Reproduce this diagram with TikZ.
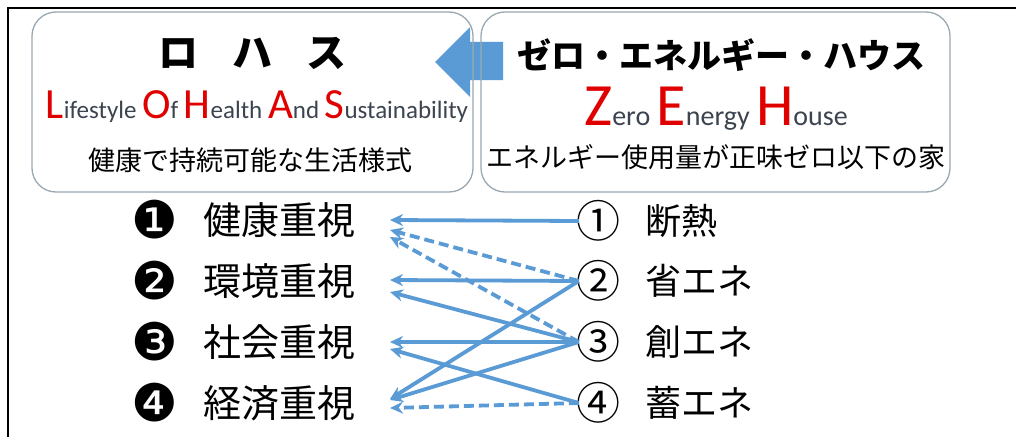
\documentclass[tikz,border=0pt]{standalone}
\usepackage{fontspec}
\setmainfont{Carlito}
\newfontfamily\jp{Noto Sans CJK JP}
\newfontfamily\dv{DejaVu Sans}
\usetikzlibrary{arrows.meta}
\definecolor{zblue}{HTML}{5B9BD5}
\definecolor{boxline}{HTML}{9AA8B2}
\definecolor{zred}{HTML}{E00000}
\definecolor{lgrey}{HTML}{3C4450}
\newcommand{\BigC}[1]{{\fontsize{43}{43}\selectfont\color{zred}#1}}
\newcommand{\SmC}[1]{{\fontsize{25}{25}\selectfont\color{lgrey}#1}}
\newcommand{\BigZ}[1]{{\fontsize{60}{60}\selectfont\color{zred}#1}}
\newcommand{\SmZ}[1]{{\fontsize{28}{28}\selectfont\color{lgrey}#1}}
\begin{document}
\begin{tikzpicture}[x=1pt,y=-1pt,
  infobox/.style={draw=boxline, line width=1.3pt, rounded corners=24pt, inner sep=0pt},
  txt/.style={inner sep=0pt, text=black},
  num/.style={txt, font=\dv\fontsize{52}{52}\selectfont},
  lt/.style={txt, font=\jp\fontsize{38}{38}\selectfont, anchor=west},
  circ/.style={txt, font=\jp\fontsize{44}{44}\selectfont},
  rt/.style={txt, font=\jp\fontsize{36}{36}\selectfont, anchor=west},
  conn/.style={draw=zblue, line width=3.8pt, -{Stealth[length=13pt,width=12pt]}},
  dashconn/.style={conn, dash pattern=on 10pt off 5pt}
]
\useasboundingbox (0,0) rectangle (1016,436);
\fill[white] (0,0) rectangle (1016,436);
\draw[line width=2.2pt] (8,437) -- (8,8) -- (1017,8);

% big block arrow
\fill[zblue] (435,62) -- (470,27) -- (470,42) -- (503,42) -- (503,80) -- (470,80) -- (470,97) -- cycle;

% boxes
\node[infobox, minimum width=441pt, minimum height=180pt] (lohasbox) at (252.5,102) {};
\node[infobox, minimum width=469pt, minimum height=180pt] (zehbox) at (715.5,102) {};

% LOHAS texts
\node[txt, font=\jp\bfseries\fontsize{40}{40}\selectfont] (lohas) at (252,53) {ロ\hspace{34pt}ハ\hspace{34pt}ス};
\node[txt, anchor=base] (lohasen) at (257,118) {\BigC{L}\SmC{ifestyle }\BigC{O}\SmC{f }\BigC{H}\SmC{ealth }\BigC{A}\SmC{nd }\BigC{S}\SmC{ustainability}};
\node[txt, font=\jp\fontsize{27}{27}\selectfont] (lohasjp) at (250,160) {健康で持続可能な生活様式};

% ZEH texts
\node[txt, font=\jp\bfseries\fontsize{34}{34}\selectfont] (zeh) at (721,55) {ゼロ・エネルギー・ハウス};
\node[txt, anchor=base] (zehen) at (716,125) {\BigZ{Z}\SmZ{ero }\BigZ{E}\SmZ{nergy }\BigZ{H}\SmZ{ouse}};
\node[txt, font=\jp\fontsize{27}{27}\selectfont] (zehjp) at (716,157) {エネルギー使用量が正味ゼロ以下の家};

% left list
\node[num] (n1) at (155,220) {❶};
\node[num] (n2) at (155,281) {❷};
\node[num] (n3) at (155,342) {❸};
\node[num] (n4) at (155,403) {❹};
\node[lt] (k1) at (203,220) {健康重視};
\node[lt] (k2) at (203,281) {環境重視};
\node[lt] (k3) at (203,342) {社会重視};
\node[lt] (k4) at (203,403) {経済重視};

% right list
\node[circ] (c1) at (598,221) {①};
\node[circ] (c2) at (598,281) {②};
\node[circ] (c3) at (598,342) {③};
\node[circ] (c4) at (598,403) {④};
\node[rt] (r1) at (645,221) {断熱};
\node[rt] (r2) at (645,281) {省エネ};
\node[rt] (r3) at (645,342) {創エネ};
\node[rt] (r4) at (645,403) {蓄エネ};

% arrow end points
\coordinate (e11) at (390,220);
\coordinate (e21) at (390,230);
\coordinate (e31) at (390,237);
\coordinate (e22) at (390,280);
\coordinate (e32) at (390,292);
\coordinate (e33) at (390,342);
\coordinate (e43) at (390,349);
\coordinate (e24) at (390,399);
\coordinate (e34) at (390,400);
\coordinate (e44) at (390,408);

\draw[conn] ([xshift=3pt]c1.west) -- (e11);
\draw[dashconn] ([xshift=3pt]c2.west) -- (e21);
\draw[dashconn] ([xshift=3pt]c3.west) -- (e31);
\draw[conn] ([xshift=3pt]c2.west) -- (e22);
\draw[conn] ([xshift=3pt]c3.west) -- (e32);
\draw[conn] ([xshift=3pt]c3.west) -- (e33);
\draw[conn] ([xshift=3pt]c4.west) -- (e43);
\draw[conn] ([xshift=3pt]c2.west) -- (e24);
\draw[conn] ([xshift=3pt]c3.west) -- (e34);
\draw[dashconn] ([xshift=3pt]c4.west) -- (e44);
\end{tikzpicture}
\end{document}
